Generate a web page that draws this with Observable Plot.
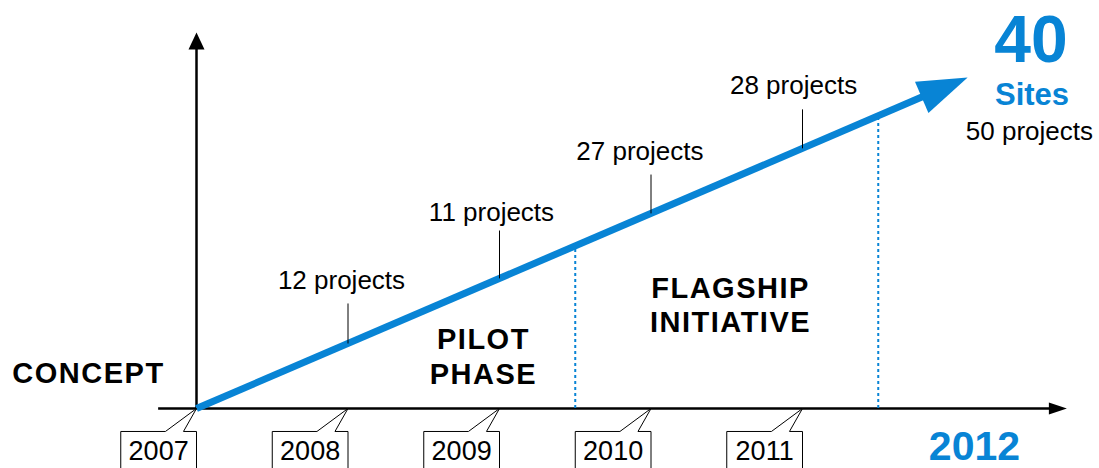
<!DOCTYPE html>
<html><head><meta charset="utf-8">
<script src="https://cdn.jsdelivr.net/npm/d3@7"></script>
<script src="https://cdn.jsdelivr.net/npm/@observablehq/plot@0.6"></script>
<style>body{margin:0;background:#fff;overflow:hidden}</style>
</head><body><div id="chart"></div>
<script>
// ---- data ----
const years = [2007, 2008, 2009, 2010, 2011];
const finalYearLabel = ["2012"];
const finalYearX = [2012.135];
const trendX = [2007, 2011.83];          // growth arrow shaft
const trendY = [0, 37.6];
const tipX = [2012.09];                  // arrow tip
const tipY = [39.6];
const projYears = [2008, 2009, 2010, 2011];
const projLabels = ["12 projects", "11 projects", "27 projects", "28 projects"];
const projLineY = [7.78, 15.57, 23.35, 31.14];   // trend value at tick
const projTickTop = [12.57, 21.3, 28.0, 35.8];
const projLabelX = [2007.957, 2008.947, 2009.927, 2010.941];
const projLabelY = [14.36, 22.5, 29.7, 37.6];
const phaseBoundX = [2009.5, 2011.5];
const phaseBoundY = [19.46, 35.03];
const phaseNames = ["PILOT\nPHASE", "FLAGSHIP\nINITIATIVE"];
const phaseX = [2008.894, 2010.525];
const phaseY = [2.99, 9.1];
const conceptLabel = ["CONCEPT"];
const conceptX = [2006.287], conceptY = [3.11];
const endNumber = ["40"], endNumberX = [2012.508], endNumberY = [41.41];
const endUnit = ["Sites"], endUnitX = [2012.515], endUnitY = [36.38];
const endProjects = ["50 projects"], endProjectsX = [2012.498], endProjectsY = [32.19];

// ---- helpers ----
const BLUE = "#0884d5";
const FONT = "'Liberation Sans', Arial, Helvetica, sans-serif";
function head(len, half) {
  return { draw(ctx, size) {
    const k = Math.sqrt(size / Math.PI);
    ctx.moveTo(0, 0); ctx.lineTo(half * k, len * k); ctx.lineTo(-half * k, len * k); ctx.closePath();
  }};
}
const trend = trendX.map((x, i) => ({x, y: trendY[i]}));
const proj = projYears.map((x, i) => ({x, y1: projLineY[i], y2: projTickTop[i], lx: projLabelX[i], ly: projLabelY[i], label: projLabels[i]}));
const bounds = phaseBoundX.map((x, i) => ({x, y: phaseBoundY[i]}));
const phases = phaseNames.map((t, i) => ({t, x: phaseX[i], y: phaseY[i]}));
const callout = years.flatMap(yr => [
  [yr - 0.5, -9], [yr - 0.5, -2.75], [yr - 0.205, -2.75], [yr, 0],
  [yr - 0.086, -2.75], [yr, -2.75], [yr, -9]
].map(([x, y]) => ({year: yr, x, y})));

const chart = Plot.plot({
  width: 1099, height: 468,
  marginLeft: 196, marginRight: 69.75, marginTop: 32, marginBottom: 60,
  x: {domain: [2007, 2012.5], axis: null},
  y: {domain: [0, 45], axis: null},
  style: {fontFamily: FONT, background: "white", color: "black"},
  marks: [
    // axes
    Plot.ruleY([0], {x1: 2006.75, x2: 2012.66, stroke: "black", strokeWidth: 2.5}),
    Plot.ruleX([2007], {y1: 0, y2: 43.2, stroke: "black", strokeWidth: 2.5}),
    Plot.dot([0], {x: 2012.745, y: 0, r: 1, symbol: head(18, 6), rotate: 90, fill: "black", stroke: null}),
    Plot.dot([0], {x: 2007, y: 45, r: 1, symbol: head(17, 8), rotate: 0, fill: "black", stroke: null}),
    // phase boundaries
    Plot.ruleX(bounds, {x: "x", y1: 0, y2: "y", stroke: BLUE, strokeWidth: 2, strokeDasharray: "3,3"}),
    // trend arrow
    Plot.line(trend, {x: "x", y: "y", stroke: BLUE, strokeWidth: 7, strokeLinecap: "butt"}),
    Plot.dot(tipX, {x: d => d, y: tipY[0], r: 1, symbol: head(50, 17), rotate: 66.7, fill: BLUE, stroke: null}),
    // project ticks + labels
    Plot.link(proj, {x1: "x", x2: "x", y1: "y1", y2: "y2", stroke: "black", strokeWidth: 1}),
    Plot.text(proj, {x: "lx", y: "ly", text: "label", fontSize: 26, lineAnchor: "bottom", fill: "black"}),
    // year callouts
    Plot.line(callout, {x: "x", y: "y", z: "year", stroke: "black", strokeWidth: 1, fill: "white"}),
    Plot.text(years, {x: d => d - 0.25, y: -6.22, text: d => String(d), fontSize: 27, lineAnchor: "bottom", fill: "black"}),
    Plot.text(finalYearLabel, {x: finalYearX[0], y: -6.22, text: d => d, fontSize: 41, fontWeight: "bold", lineAnchor: "bottom", fill: BLUE}),
    // phase labels
    Plot.text(phases, {x: "x", y: "y", text: "t", fontSize: 29, fontWeight: "bold", lineAnchor: "bottom", lineHeight: 1.18, fill: "black"}),
    Plot.text(conceptLabel, {x: conceptX[0], y: conceptY[0], text: d => d, fontSize: 29, fontWeight: "bold", lineAnchor: "bottom", fill: "black"}),
    // end labels
    Plot.text(endNumber, {x: endNumberX[0], y: endNumberY[0], text: d => d, fontSize: 66, fontWeight: "bold", lineAnchor: "bottom", fill: BLUE}),
    Plot.text(endUnit, {x: endUnitX[0], y: endUnitY[0], text: d => d, fontSize: 31, fontWeight: "bold", lineAnchor: "bottom", fill: BLUE}),
    Plot.text(endProjects, {x: endProjectsX[0], y: endProjectsY[0], text: d => d, fontSize: 26, lineAnchor: "bottom", fill: "black"})
  ]
});
d3.select(chart).selectAll('g[font-weight="bold"][fill="black"]').style("letter-spacing", "1.5px");
document.getElementById("chart").appendChild(chart);
</script>
</body></html>
